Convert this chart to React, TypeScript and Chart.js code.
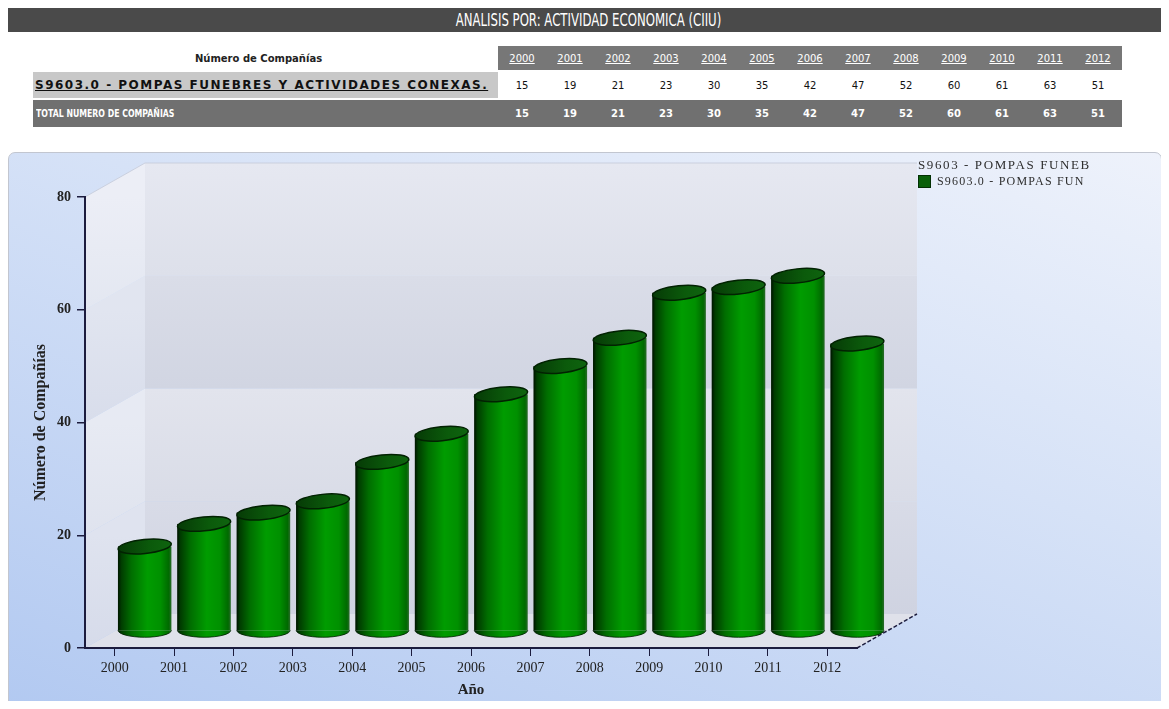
import React, { useEffect, useRef } from "react";
import { Chart, registerables } from "chart.js";

Chart.register(...registerables);

// ---------- data ----------
const years = ["2000", "2001", "2002", "2003", "2004", "2005", "2006", "2007", "2008", "2009", "2010", "2011", "2012"];
const companies = [15, 19, 21, 23, 30, 35, 42, 47, 52, 60, 61, 63, 51];
const totalCompanies = [15, 19, 21, 23, 30, 35, 42, 47, 52, 60, 61, 63, 51];
const yTickValues = [0, 20, 40, 60, 80];

const pageTitle = "ANALISIS POR: ACTIVIDAD ECONOMICA (CIIU)";
const tableHeader = "Número de Compañías";
const rowLabel = "S9603.0 - POMPAS FUNEBRES Y ACTIVIDADES CONEXAS.";
const totalLabel = "TOTAL NUMERO DE COMPAÑIAS";
const legendTitle = "S9603 - POMPAS FUNEB";
const legendLabel = "S9603.0 - POMPAS FUN";
const xTitle = "Año";
const yTitle = "Número de Compañías";

// ---------- layout / style constants ----------
const CW = 1152;
const CH = 556;
const DX = 60;
const DY = -34;
const SERIF = "'Liberation Serif', 'DejaVu Serif', serif";
const SANS = "'DejaVu Sans', Verdana, sans-serif";
const AXIS = "#1c1c3e";
const BAND_BACK = [
  ["#d8dbe7", "#cfd3e1"],
  ["#e2e4ed", "#d9dce7"],
  ["#dadde8", "#d1d5e2"],
  ["#e6e8f1", "#dde0ea"],
];
const BAND_SIDE = [
  ["#dfe3ef", "#d6dbea"],
  ["#e7eaf3", "#dfe3ee"],
  ["#e1e5f0", "#d8ddeb"],
  ["#eceef6", "#e3e7f1"],
];

function poly(ctx: CanvasRenderingContext2D, pts: number[][]) {
  ctx.beginPath();
  ctx.moveTo(pts[0][0], pts[0][1]);
  for (let i = 1; i < pts.length; i++) ctx.lineTo(pts[i][0], pts[i][1]);
  ctx.closePath();
}

function barGradient(ctx: CanvasRenderingContext2D, x: number, w: number) {
  const g = ctx.createLinearGradient(x - w / 2, 0, x + w / 2, 0);
  g.addColorStop(0, "#001400");
  g.addColorStop(0.06, "#003c00");
  g.addColorStop(0.25, "#006e00");
  g.addColorStop(0.55, "#009c00");
  g.addColorStop(0.8, "#009000");
  g.addColorStop(0.95, "#006a00");
  g.addColorStop(1, "#2a6a2a");
  return g;
}

const threeD = {
  id: "threeD",
  beforeDraw(chart: any) {
    const { ctx, chartArea, scales } = chart;
    const { left: L, right: R, top: T, bottom: B } = chartArea;
    const y = scales.y;
    ctx.save();
    // floor
    ctx.fillStyle = "#dfe1ea";
    poly(ctx, [[L, B], [R, B], [R + DX, B + DY], [L + DX, B + DY]]);
    ctx.fill();
    // back wall + left wall bands
    for (let i = 0; i < yTickValues.length - 1; i++) {
      const y0 = y.getPixelForValue(yTickValues[i]);
      const y1 = y.getPixelForValue(yTickValues[i + 1]);
      const gb = ctx.createLinearGradient(0, y1 + DY, 0, y0 + DY);
      gb.addColorStop(0, BAND_BACK[i][0]);
      gb.addColorStop(1, BAND_BACK[i][1]);
      ctx.fillStyle = gb;
      ctx.fillRect(L + DX, y1 + DY, R - L, y0 - y1);
      const gs = ctx.createLinearGradient(0, y1, 0, y0);
      gs.addColorStop(0, BAND_SIDE[i][0]);
      gs.addColorStop(1, BAND_SIDE[i][1]);
      ctx.fillStyle = gs;
      poly(ctx, [[L, y1], [L + DX, y1 + DY], [L + DX, y0 + DY], [L, y0]]);
      ctx.fill();
    }
    // faint edges
    ctx.strokeStyle = "rgba(200,205,220,0.9)";
    ctx.lineWidth = 1;
    ctx.beginPath();
    ctx.moveTo(L, T);
    ctx.lineTo(L + DX, T + DY);
    ctx.lineTo(R + DX, T + DY);
    ctx.stroke();
    // floor right diagonal
    ctx.strokeStyle = AXIS;
    ctx.lineWidth = 1.5;
    ctx.setLineDash([4, 2]);
    ctx.beginPath();
    ctx.moveTo(R, B);
    ctx.lineTo(R + DX, B + DY);
    ctx.stroke();
    ctx.setLineDash([]);
    ctx.restore();
  },
  beforeDatasetsDraw(chart: any) {
    chart.ctx.save();
    chart.ctx.translate(DX / 2, DY / 2);
  },
  afterDatasetsDraw(chart: any) {
    const ctx = chart.ctx;
    const meta = chart.getDatasetMeta(0);
    const ry = 7;
    meta.data.forEach((el: any) => {
      const { x, y, base, width } = el.getProps(["x", "y", "base", "width"], true);
      const rx = width / 2;
      // bottom rounded edge
      ctx.beginPath();
      ctx.ellipse(x, base, rx, ry, 0, 0, Math.PI);
      ctx.closePath();
      ctx.fillStyle = barGradient(ctx, x, width);
      ctx.fill();
      ctx.strokeStyle = "rgba(0,30,0,0.8)";
      ctx.lineWidth = 1;
      ctx.beginPath();
      ctx.ellipse(x, base, rx, ry, 0, 0, Math.PI);
      ctx.stroke();
      // left dark edge
      ctx.beginPath();
      ctx.moveTo(x - rx + 0.5, y);
      ctx.lineTo(x - rx + 0.5, base);
      ctx.stroke();
      // top cap
      const tg = ctx.createLinearGradient(x - rx, 0, x + rx, 0);
      tg.addColorStop(0, "#063a06");
      tg.addColorStop(0.6, "#0b5a0b");
      tg.addColorStop(1, "#0f640f");
      ctx.beginPath();
      ctx.ellipse(x, y, rx, ry, -0.1, 0, Math.PI * 2);
      ctx.fillStyle = tg;
      ctx.fill();
      ctx.strokeStyle = "#022202";
      ctx.lineWidth = 1.5;
      ctx.stroke();
    });
    ctx.restore();
  },
};

export default function App() {
  const ref = useRef<HTMLCanvasElement>(null);

  useEffect(() => {
    const canvas = ref.current;
    if (!canvas) return;
    const chart = new Chart(canvas, {
      type: "bar",
      data: {
        labels: years,
        datasets: [
          {
            label: legendLabel,
            data: companies,
            borderWidth: 0,
            barPercentage: 0.9,
            categoryPercentage: 1,
            backgroundColor: (c: any) => {
              const ch = c.chart;
              const xs = ch.scales && ch.scales.x;
              if (!ch.chartArea || !xs || c.dataIndex == null) return "#008800";
              const x = xs.getPixelForValue(c.dataIndex);
              const w = (xs.width / years.length) * 0.9;
              return barGradient(ch.ctx, x, w);
            },
          },
        ],
      },
      options: {
        responsive: false,
        animation: false,
        layout: { padding: { left: 0, top: 44, right: 304, bottom: 0 } },
        plugins: { legend: { display: false }, tooltip: { enabled: false } },
        scales: {
          x: {
            offset: true,
            grid: { display: true, drawOnChartArea: false, drawTicks: true, tickLength: 8, offset: false, color: AXIS, lineWidth: 1 },
            border: { display: true, color: AXIS, width: 2 },
            ticks: { font: { family: SERIF, size: 14 }, color: "#222", padding: 4, maxRotation: 0, autoSkip: false },
            title: { display: true, text: xTitle, font: { family: SERIF, size: 15, weight: "bold" }, color: "#222", padding: { top: 0, bottom: 10 } },
            afterFit: (s: any) => {
              s.height = 61;
            },
          },
          y: {
            min: 0,
            max: 80,
            afterBuildTicks: (s: any) => {
              s.ticks = yTickValues.map((v) => ({ value: v }));
            },
            grid: { display: true, drawOnChartArea: false, drawTicks: true, tickLength: 8, color: AXIS, lineWidth: 1.5 },
            border: { display: true, color: AXIS, width: 2 },
            ticks: { font: { family: SERIF, size: 14, weight: "bold" }, color: "#222", padding: 6 },
            title: { display: true, text: yTitle, font: { family: SERIF, size: 16, weight: "bold" }, color: "#222", padding: { top: 22, bottom: 0 } },
            afterFit: (s: any) => {
              s.width = 76;
            },
          },
        },
      } as any,
      plugins: [threeD],
    });
    return () => chart.destroy();
  }, []);

  const yearCell: React.CSSProperties = { background: "#777", color: "#fff", textAlign: "center", textDecoration: "underline", padding: 0 };
  const valCell: React.CSSProperties = { background: "#fff", color: "#111", textAlign: "center", padding: 0 };
  const totCell: React.CSSProperties = { background: "#707070", color: "#fff", textAlign: "center", fontWeight: "bold", padding: 0 };

  return (
    <div style={{ height: 701, marginBottom: -8, marginRight: -8, overflow: "hidden", fontFamily: SANS }}>
      <div style={{ height: 24, background: "#4a4a4a", display: "flex", alignItems: "center", justifyContent: "center", overflow: "hidden" }}>
        <span style={{ color: "#fff", fontSize: 17, display: "inline-block", transform: "scaleX(0.69)", whiteSpace: "nowrap" }}>{pageTitle}</span>
      </div>
      <table style={{ marginTop: 12, marginLeft: 25, borderCollapse: "separate", borderSpacing: "0 2px", width: 1089, tableLayout: "fixed", fontSize: 10 }}>
        <colgroup>
          <col style={{ width: 465 }} />
          {years.map((y) => (
            <col key={y} style={{ width: 48 }} />
          ))}
        </colgroup>
        <tbody>
          <tr style={{ height: 24 }}>
            <td style={{ background: "#fff", textAlign: "center", fontWeight: "bold", color: "#222", padding: "0 14px 0 0" }}>{tableHeader}</td>
            {years.map((y) => (
              <td key={y} style={yearCell}>{y}</td>
            ))}
          </tr>
          <tr style={{ height: 26 }}>
            <td style={{ background: "#c8c8c8", color: "#111", fontWeight: "bold", textDecoration: "underline", fontSize: 12, letterSpacing: 1.5, whiteSpace: "nowrap", overflow: "hidden", padding: "0 0 0 2px" }}>{rowLabel}</td>
            {companies.map((v, i) => (
              <td key={i} style={valCell}>{v}</td>
            ))}
          </tr>
          <tr style={{ height: 27 }}>
            <td style={{ background: "#707070", color: "#fff", fontWeight: "bold", padding: "0 0 0 3px", whiteSpace: "nowrap" }}>
              <span style={{ display: "inline-block", transform: "scaleX(0.78)", transformOrigin: "left center" }}>{totalLabel}</span>
            </td>
            {totalCompanies.map((v, i) => (
              <td key={i} style={totCell}>{v}</td>
            ))}
          </tr>
        </tbody>
      </table>
      <div
        style={{
          position: "relative",
          marginTop: 23,
          width: CW,
          height: CH,
          border: "1px solid #c2c6d0",
          borderRadius: 7,
          background: "linear-gradient(200deg, #eef2fb 0%, #d6e2f7 40%, #b2c9f1 100%)",
          overflow: "hidden",
        }}
      >
        <canvas ref={ref} width={CW} height={CH} style={{ display: "block", width: CW, height: CH }} />
        <div style={{ position: "absolute", left: 909, top: 4, fontFamily: SERIF, color: "#2e2e2e", whiteSpace: "nowrap" }}>
          <div style={{ fontSize: 13, letterSpacing: 1.6, height: 16 }}>{legendTitle}</div>
          <div style={{ display: "flex", alignItems: "center", fontSize: 12, letterSpacing: 1.2, marginTop: 1 }}>
            <span style={{ display: "inline-block", width: 11, height: 11, background: "#0a600a", border: "1px solid #033003", marginRight: 6 }} />
            <span>{legendLabel}</span>
          </div>
        </div>
      </div>
    </div>
  );
}
